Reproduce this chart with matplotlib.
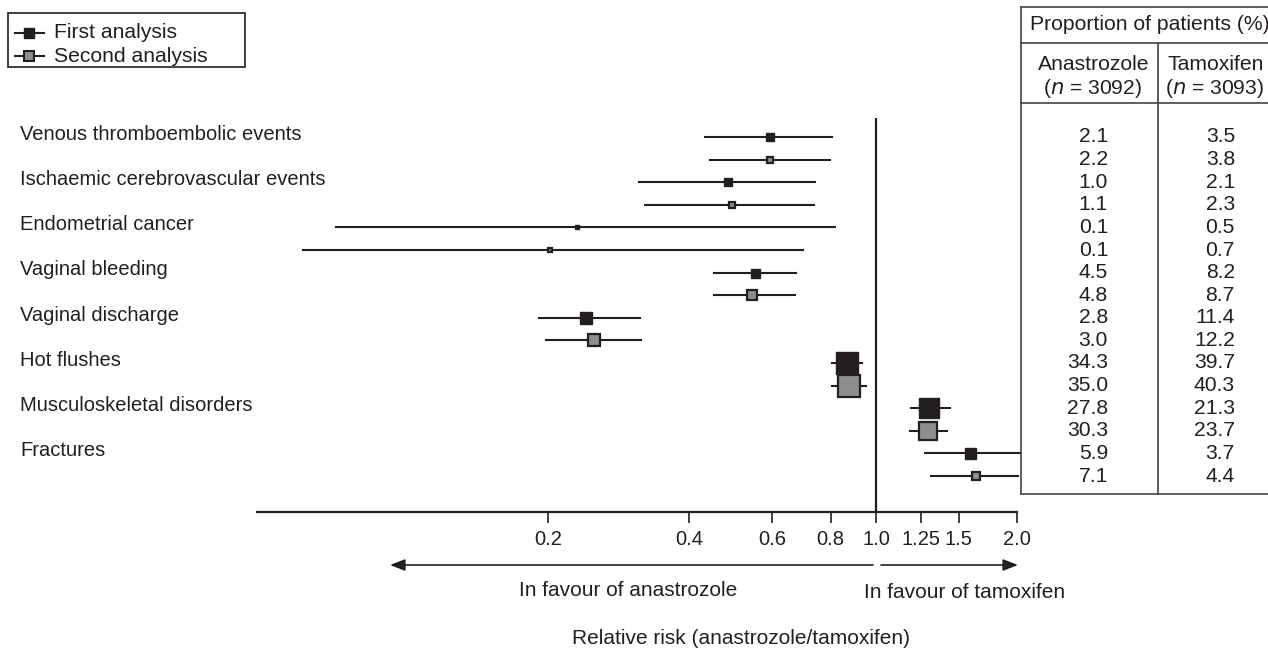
import numpy as np
import matplotlib
matplotlib.use('Agg')
import matplotlib.pyplot as plt
from matplotlib.transforms import blended_transform_factory

# outcomes (one label per pair of rows)
outcomes = ['Venous thromboembolic events', 'Ischaemic cerebrovascular events',
            'Endometrial cancer', 'Vaginal bleeding', 'Vaginal discharge',
            'Hot flushes', 'Musculoskeletal disorders', 'Fractures']

# relative risk and 95% CI, first analysis
rr_first = [0.594, 0.484, 0.230, 0.552, 0.241, 0.867, 1.30, 1.59]
lo_first = [0.432, 0.312, 0.0706, 0.451, 0.191, 0.806, 1.19, 1.27]
hi_first = [0.806, 0.741, 0.818, 0.675, 0.314, 0.934, 1.44, 2.03]

# second analysis
rr_second = [0.594, 0.493, 0.202, 0.544, 0.250, 0.876, 1.29, 1.63]
lo_second = [0.443, 0.322, 0.060, 0.451, 0.198, 0.806, 1.18, 1.31]
hi_second = [0.798, 0.738, 0.699, 0.672, 0.315, 0.952, 1.42, 2.01]

# proportion of patients (%)
anas_first = ['2.1', '1.0', '0.1', '4.5', '2.8', '34.3', '27.8', '5.9']
anas_second = ['2.2', '1.1', '0.1', '4.8', '3.0', '35.0', '30.3', '7.1']
tam_first = ['3.5', '2.1', '0.5', '8.2', '11.4', '39.7', '21.3', '3.7']
tam_second = ['3.8', '2.3', '0.7', '8.7', '12.2', '40.3', '23.7', '4.4']

xticks = [0.2, 0.4, 0.6, 0.8, 1.0, 1.25, 1.5, 2.0]
xticklabels = ['0.2', '0.4', '0.6', '0.8', '1.0', '1.25', '1.5', '2.0']

# square sizes (px) per outcome, style only
box_first = [8, 8, 4, 9, 12, 23, 20, 11]
box_second = [8, 7, 5, 11, 13, 23, 20, 10]

W, H = 1268, 651
dark = '#231f20'
grey = '#8e8e8e'
plt.rcParams['font.family'] = ['Liberation Sans', 'DejaVu Sans']
fs_lab = 14.5
fs_tab = 15.2
fs_bot = 15

fig = plt.figure(figsize=(W / 100, H / 100), dpi=100)

# overlay in pixel coordinates for table, legend and notes
ov = fig.add_axes([0, 0, 1, 1])
ov.set_xlim(0, W)
ov.set_ylim(H, 0)
ov.axis('off')

# pixel layout of rows
row0, dy = 137.0, 22.6
x0px, x1px = 257, 1021
px_per_ln = 203.7
top_px, bot_px = 118, 512

ax = fig.add_axes([x0px / W, 1 - bot_px / H, (x1px - x0px) / W, (bot_px - top_px) / H])
ax.patch.set_alpha(0)
ax.set_xscale('log')
xmin = np.exp((x0px - 876) / px_per_ln)
xmax = np.exp((x1px - 876) / px_per_ln)
ax.set_xlim(xmin, xmax)
ax.set_ylim((bot_px - row0) / dy, (top_px - row0) / dy)

for s in ['top', 'right', 'left']:
    ax.spines[s].set_visible(False)
ax.spines['bottom'].set_linewidth(1.6)
ax.spines['bottom'].set_color(dark)
ax.spines['bottom'].set_bounds(xmin, 2.0)
ax.set_yticks([])
ax.set_xticks(xticks)
ax.set_xticklabels(xticklabels, fontsize=14.5)
ax.xaxis.set_minor_locator(matplotlib.ticker.NullLocator())
ax.tick_params(axis='x', length=8, width=1.2, color=dark, pad=5, labelcolor=dark)
ax.axvline(1.0, color=dark, lw=1.6)

for i in range(len(outcomes)):
    y1, y2 = 2 * i, 2 * i + 1
    ax.plot([lo_first[i], hi_first[i]], [y1, y1], color=dark, lw=1.5, clip_on=False)
    ax.plot(rr_first[i], y1, marker='s', ms=box_first[i] * 0.72, color=dark,
            mec=dark, mew=1, clip_on=False, zorder=3)
    ax.plot([lo_second[i], hi_second[i]], [y2, y2], color=dark, lw=1.5, clip_on=False)
    ax.plot(rr_second[i], y2, marker='s', ms=box_second[i] * 0.72 - 1, color=grey,
            mec=dark, mew=1.6, clip_on=False, zorder=3)

# outcome labels
tr = blended_transform_factory(fig.transFigure, ax.transData)
for i, name in enumerate(outcomes):
    ax.text(20 / W, 2 * i - 0.12, name, transform=tr, ha='left', va='center',
            fontsize=fs_lab, color=dark)

# legend box
ov.add_patch(plt.Rectangle((8, 13), 237, 54, fill=False, ec=dark, lw=1.2))
ov.plot([15, 44], [33, 33], color=dark, lw=1.5)
ov.plot(29, 33, marker='s', ms=7.5, color=dark)
ov.plot([15, 44], [56, 56], color=dark, lw=1.5)
ov.plot(29, 56, marker='s', ms=6.5, color=grey, mec=dark, mew=1.5)
ov.text(54, 33, 'First analysis', fontsize=fs_tab, va='center', color=dark)
ov.text(54, 56, 'Second analysis', fontsize=fs_tab, va='center', color=dark)

# table
tl, tt, tb, tdiv = 1021, 7, 494, 1158
lk = dict(color='#444444', lw=1.2)
ov.plot([tl, W + 5], [tt, tt], **lk)
ov.plot([tl, tl], [tt, tb], **lk)
ov.plot([tl, W + 5], [tb, tb], **lk)
ov.plot([tl, W + 5], [43, 43], **lk)
ov.plot([tl, W + 5], [103, 103], **lk)
ov.plot([tdiv, tdiv], [43, tb], **lk)
ov.text(1030, 25, 'Proportion of patients (%)', fontsize=fs_tab, va='center', color=dark)
ov.text(1094, 64, 'Anastrozole', fontsize=fs_tab, va='center', ha='center', color=dark)
ov.text(1093, 88, '($n$ = 3092)', fontsize=fs_tab, va='center', ha='center', color=dark)
ov.text(1168, 64, 'Tamoxifen', fontsize=fs_tab, va='center', ha='left', color=dark)
ov.text(1165, 88, '($n$ = 3093)', fontsize=fs_tab, va='center', ha='left', color=dark)
for i in range(len(outcomes)):
    for k, (a, t) in enumerate([(anas_first[i], tam_first[i]), (anas_second[i], tam_second[i])]):
        y = row0 + dy * (2 * i + k)
        ov.text(1108, y, a, fontsize=fs_tab, va='center', ha='right', color=dark)
        ov.text(1235, y, t, fontsize=fs_tab, va='center', ha='right', color=dark)

# direction arrows and captions
ak = dict(arrowstyle='-|>,head_length=0.9,head_width=0.35', color=dark, lw=1.2,
          shrinkA=0, shrinkB=0)
ov.annotate('', xy=(390, 565), xytext=(873, 565), arrowprops=ak)
ov.annotate('', xy=(1018, 565), xytext=(881, 565), arrowprops=ak)
ov.text(628, 591, 'In favour of anastrozole', fontsize=fs_bot,
        ha='center', va='center', color=dark)
ov.text(965, 593, 'In favour of tamoxifen', fontsize=fs_bot,
        ha='center', va='center', color=dark)
ov.text(741, 638, 'Relative risk (anastrozole/tamoxifen)', fontsize=fs_bot,
        ha='center', va='center', color=dark)

fig.savefig('out.png', dpi=100)
